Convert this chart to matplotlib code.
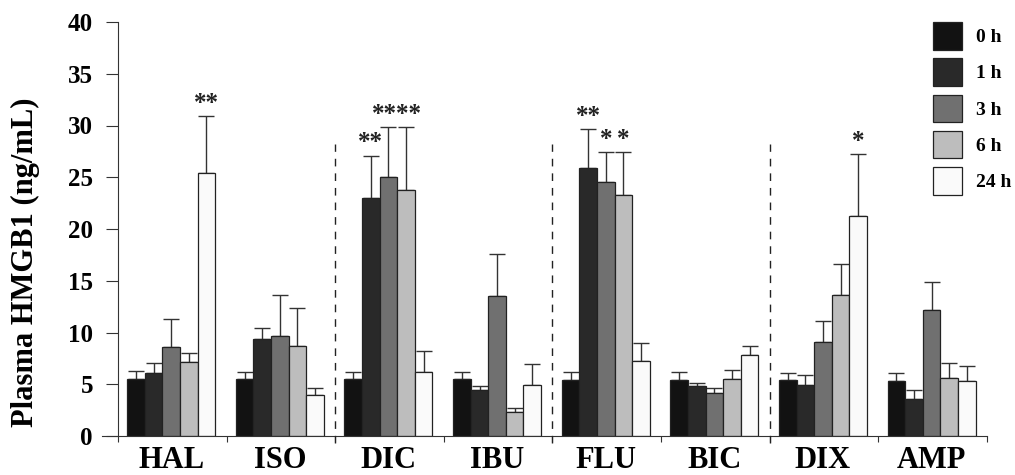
import numpy as np
import matplotlib
matplotlib.use('Agg')
import matplotlib.pyplot as plt

plt.rcParams['font.family'] = ['Liberation Serif', 'DejaVu Serif']
plt.rcParams['font.weight'] = 'bold'

groups = ['HAL', 'ISO', 'DIC', 'IBU', 'FLU', 'BIC', 'DIX', 'AMP']
times = ['0 h', '1 h', '3 h', '6 h', '24 h']

# mean values (ng/mL)
mean_0h = [5.55, 5.5, 5.5, 5.5, 5.45, 5.4, 5.4, 5.35]
mean_1h = [6.1, 9.4, 23.0, 4.4, 25.9, 4.85, 4.9, 3.55]
mean_3h = [8.6, 9.7, 25.0, 13.5, 24.5, 4.2, 9.1, 12.2]
mean_6h = [7.15, 8.7, 23.8, 2.3, 23.3, 5.5, 13.65, 5.65]
mean_24h = [25.4, 4.0, 6.15, 4.9, 7.25, 7.8, 21.3, 5.3]

# upper error bars
err_0h = [0.7, 0.7, 0.7, 0.7, 0.75, 0.75, 0.7, 0.7]
err_1h = [1.0, 1.0, 4.1, 0.4, 3.8, 0.3, 1.0, 0.9]
err_3h = [2.7, 3.9, 4.9, 4.1, 2.9, 0.4, 2.0, 2.65]
err_6h = [0.9, 3.7, 6.1, 0.4, 4.1, 0.9, 3.0, 1.45]
err_24h = [5.5, 0.6, 2.05, 2.1, 1.7, 0.9, 5.9, 1.45]

# significance marks
sig_0h = ['', '', '', '', '', '', '', '']
sig_1h = ['', '', '**', '', '**', '', '', '']
sig_3h = ['', '', '**', '', '*', '', '', '']
sig_6h = ['', '', '**', '', '*', '', '', '']
sig_24h = ['**', '', '', '', '', '', '*', '']

means = [mean_0h, mean_1h, mean_3h, mean_6h, mean_24h]
errs = [err_0h, err_1h, err_3h, err_6h, err_24h]
sigs = [sig_0h, sig_1h, sig_3h, sig_6h, sig_24h]
colors = ['#121212', '#292929', '#707070', '#bdbdbd', '#fafafa']

fig = plt.figure(figsize=(10.15, 4.75), dpi=100)
ax = fig.add_axes([101.7 / 1015, 39 / 475, 885.3 / 1015, 414 / 475])

x = np.arange(len(groups)) + 0.49
w = 0.162
for k in range(5):
    pos = x + (k - 2) * w
    ax.bar(pos, means[k], w, color=colors[k], edgecolor='#222222',
           linewidth=0.9, label=times[k], zorder=2)
    ax.errorbar(pos, means[k], yerr=[np.zeros(len(groups)), errs[k]],
                fmt='none', ecolor='#333333', elinewidth=1.0, capsize=6,
                capthick=1.0, zorder=1)

# asterisks; wide labels on neighbouring bars at the same height are joined
for i in range(len(groups)):
    k = 0
    while k < 5:
        if sigs[k][i]:
            top = means[k][i] + errs[k][i]
            text = sigs[k][i]
            n = 1
            while (k + n < 5 and len(text) > 1 and len(sigs[k + n][i]) > 1 and
                   abs(means[k + n][i] + errs[k + n][i] - top) < 0.2):
                text += sigs[k + n][i]
                n += 1
            xc = x[i] + (k + (n - 1) / 2 - 2) * w
            ax.text(xc, top + 0.1, text, ha='center', va='bottom',
                    fontsize=18, fontweight='bold', color='#222222')
            k += n
        else:
            k += 1

# dashed separators between drug pairs
for b in [2, 4, 6]:
    ax.plot([b, b], [-0.7, 28.2], ls=(0, (5.5, 5)), color='#222222',
            lw=1.0, clip_on=False, zorder=3)

ax.set_xlim(-0.15, 8)
ax.set_ylim(0, 40)
ax.spines['top'].set_visible(False)
ax.spines['right'].set_visible(False)
ax.spines['left'].set_position(('data', 0))
ax.spines['left'].set_color('#333333')
ax.spines['bottom'].set_color('#333333')

ax.set_yticks(np.arange(0, 41, 5))
ax.tick_params(axis='y', length=9, width=0.8, pad=9, labelsize=18,
               color='#333333')
ax.set_xticks(np.arange(0, 9))
ax.set_xticklabels([])
ax.tick_params(axis='x', which='major', length=4, width=0.8, color='#333333')
ax.set_xticks(x, minor=True)
ax.set_xticklabels(groups, minor=True, fontsize=22, fontweight='bold')
ax.tick_params(axis='x', which='minor', length=0, pad=7)
for t in ax.get_yticklabels():
    t.set_fontweight('bold')

fig.text(25 / 1015, 1 - 262 / 475, 'Plasma HMGB1 (ng/mL)', rotation=90,
         ha='center', va='center', fontsize=22, fontweight='bold')

leg = ax.legend(loc='upper left', bbox_to_anchor=(933 / 1015, 1 - 22 / 475),
                bbox_transform=fig.transFigure, frameon=False, borderpad=0,
                borderaxespad=0, handlelength=1.5, handleheight=1.8,
                labelspacing=0.45, handletextpad=0.7,
                prop={'size': 14, 'weight': 'bold'})

fig.savefig('out.png', dpi=100)
